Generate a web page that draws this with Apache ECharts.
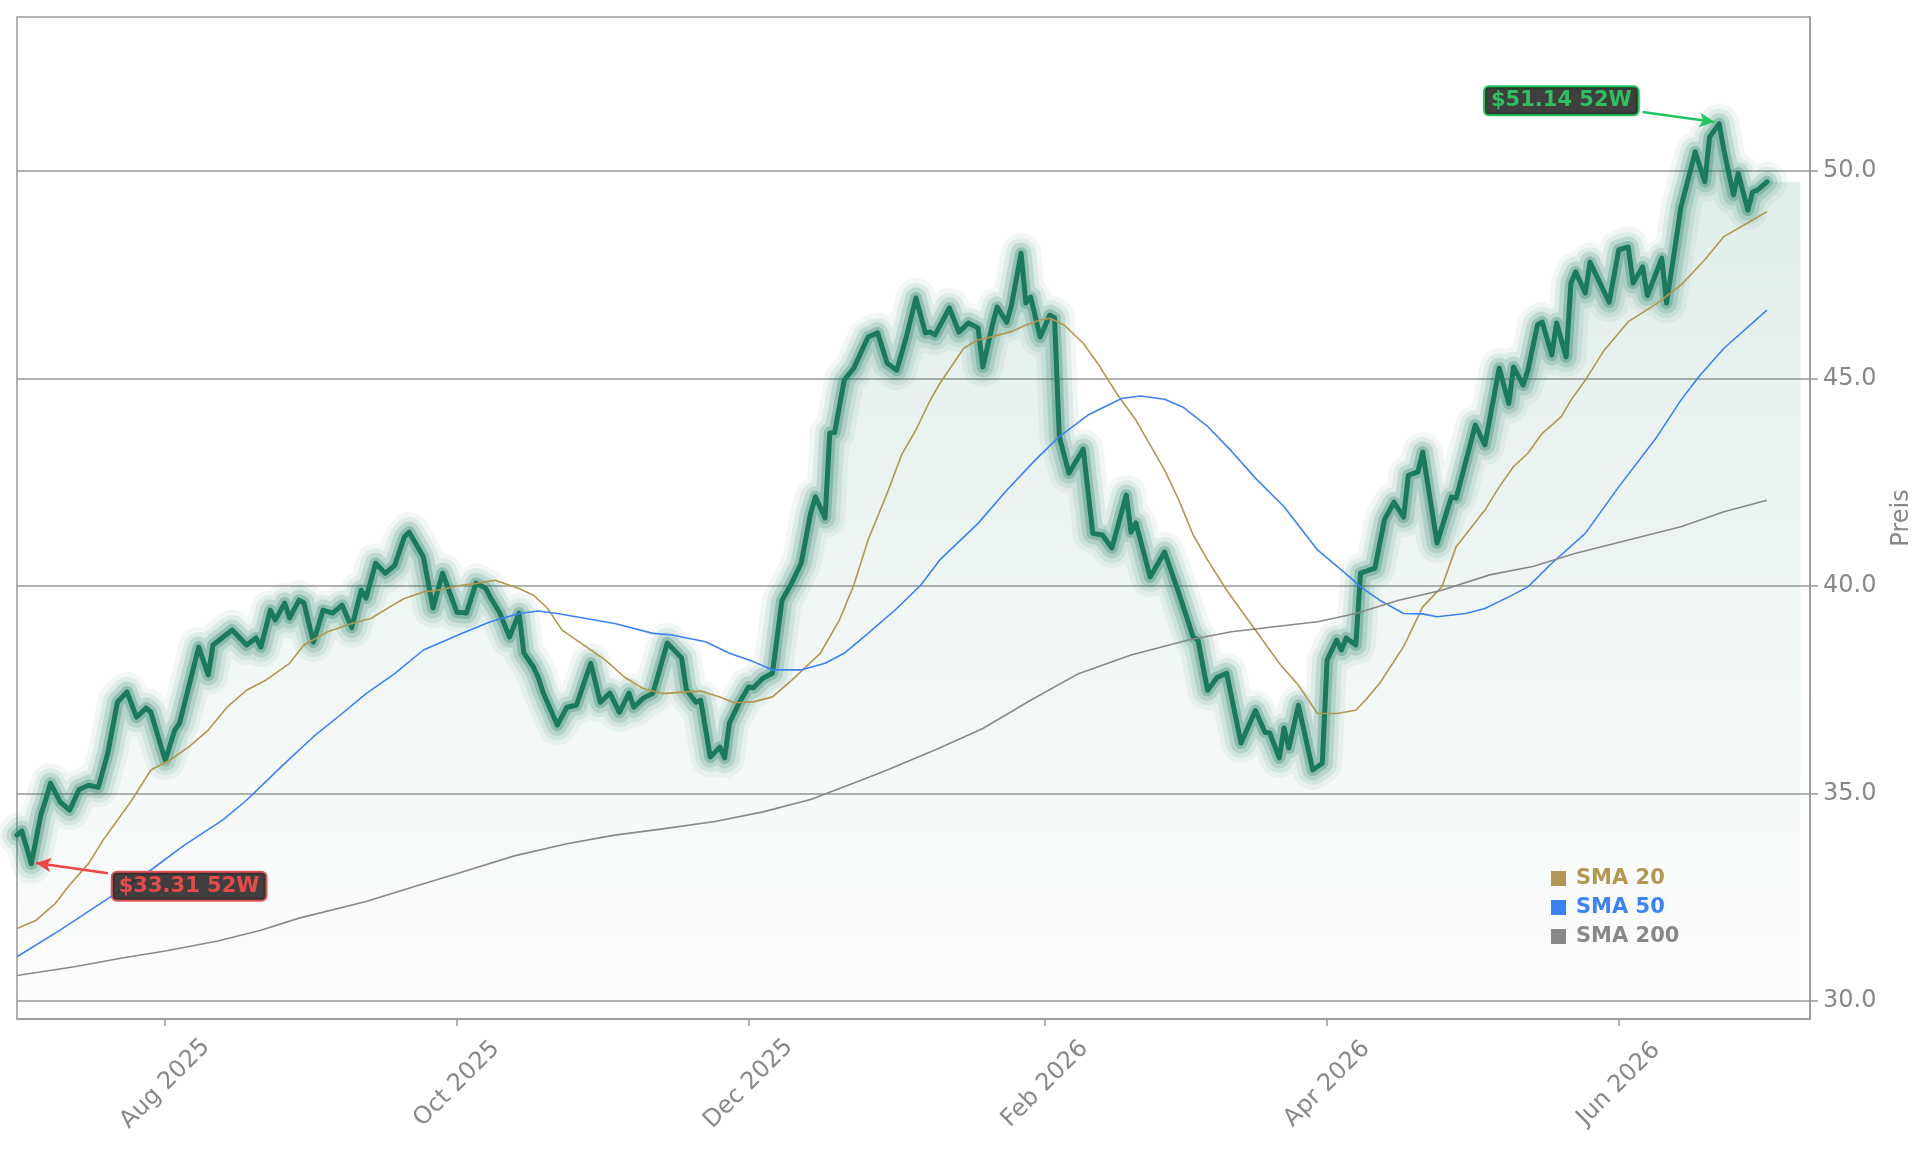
<!DOCTYPE html>
<html><head><meta charset="utf-8">
<script src="https://cdn.jsdelivr.net/npm/echarts@6/dist/echarts.min.js"></script>
<style>html,body{margin:0;padding:0;background:#ffffff}#chart{width:1929px;height:1151px}</style>
</head><body><div id="chart"></div>
<script>
// ---------------- data ----------------
const priceDates = ['2025-07-01','2025-07-02','2025-07-04','2025-07-06','2025-07-07','2025-07-08','2025-07-10','2025-07-12','2025-07-14','2025-07-16','2025-07-18','2025-07-20','2025-07-22','2025-07-24','2025-07-26','2025-07-28','2025-07-29',
'2025-08-01','2025-08-03','2025-08-04','2025-08-08','2025-08-10','2025-08-11','2025-08-15','2025-08-18','2025-08-20','2025-08-21','2025-08-23','2025-08-24','2025-08-26','2025-08-27','2025-08-29','2025-08-30',
'2025-09-01','2025-09-03','2025-09-05','2025-09-07','2025-09-09','2025-09-11','2025-09-12','2025-09-14','2025-09-16','2025-09-18','2025-09-20','2025-09-21','2025-09-24','2025-09-26','2025-09-28',
'2025-10-01','2025-10-03','2025-10-05','2025-10-07','2025-10-08','2025-10-10','2025-10-12','2025-10-14','2025-10-15','2025-10-17','2025-10-18','2025-10-19','2025-10-22','2025-10-24','2025-10-26','2025-10-29','2025-10-31',
'2025-11-02','2025-11-04','2025-11-06','2025-11-07','2025-11-09','2025-11-11','2025-11-14','2025-11-17','2025-11-18','2025-11-20','2025-11-21','2025-11-23','2025-11-25','2025-11-26','2025-11-27','2025-11-29',
'2025-12-01','2025-12-02','2025-12-04','2025-12-06','2025-12-08','2025-12-10','2025-12-12','2025-12-14','2025-12-15','2025-12-17','2025-12-18','2025-12-19','2025-12-21','2025-12-23','2025-12-26','2025-12-28','2025-12-30',
'2026-01-01','2026-01-03','2026-01-05','2026-01-07','2026-01-08','2026-01-09','2026-01-12','2026-01-14','2026-01-16','2026-01-18','2026-01-19','2026-01-21','2026-01-22','2026-01-24','2026-01-25','2026-01-27','2026-01-28','2026-01-29','2026-01-31',
'2026-02-02','2026-02-03','2026-02-04','2026-02-06','2026-02-09','2026-02-11','2026-02-13','2026-02-15','2026-02-18','2026-02-19','2026-02-20','2026-02-23','2026-02-26',
'2026-03-01','2026-03-04','2026-03-05','2026-03-07','2026-03-09','2026-03-11','2026-03-14','2026-03-17','2026-03-19','2026-03-20','2026-03-22','2026-03-23','2026-03-24','2026-03-26','2026-03-29','2026-03-31',
'2026-04-01','2026-04-03','2026-04-04','2026-04-05','2026-04-07','2026-04-08','2026-04-11','2026-04-13','2026-04-15','2026-04-17','2026-04-18','2026-04-20','2026-04-21','2026-04-24','2026-04-27','2026-04-28',
'2026-05-02','2026-05-04','2026-05-07','2026-05-09','2026-05-10','2026-05-12','2026-05-13','2026-05-15','2026-05-16','2026-05-18','2026-05-19','2026-05-21','2026-05-22','2026-05-23','2026-05-25','2026-05-26','2026-05-30',
'2026-06-01','2026-06-03','2026-06-04','2026-06-06','2026-06-07','2026-06-10','2026-06-11','2026-06-13','2026-06-14','2026-06-17','2026-06-19','2026-06-20','2026-06-22','2026-06-23','2026-06-25','2026-06-26','2026-06-28','2026-06-29','2026-06-30','2026-07-02'];
const priceValues = [34.0,34.1,33.31,34.5,34.85,35.25,34.8,34.6,35.1,35.2,35.15,35.98,37.2,37.45,36.84,37.06,36.96,
35.8,36.53,36.7,38.53,37.86,38.58,38.94,38.58,38.75,38.53,39.42,39.18,39.59,39.23,39.66,39.6,
38.65,39.42,39.35,39.54,39.0,39.9,39.71,40.55,40.31,40.5,41.18,41.3,40.7,39.47,40.31,
39.37,39.35,40.07,39.95,39.73,39.35,38.77,39.35,38.39,38.05,37.8,37.45,36.65,37.08,37.13,38.14,37.2,
37.42,36.96,37.42,37.08,37.3,37.42,38.63,38.27,37.5,37.2,37.25,35.88,36.12,35.86,36.7,37.18,
37.57,37.55,37.78,37.9,39.66,40.07,40.55,41.76,42.15,41.64,43.69,43.7,44.96,45.25,46.0,46.1,45.37,
45.2,46.0,46.94,46.1,46.12,46.05,46.7,46.12,46.34,46.22,45.28,46.29,46.72,46.36,46.77,48.02,46.82,46.96,46.0,
46.53,46.46,43.6,42.72,43.3,41.27,41.23,40.92,42.19,41.3,41.52,40.22,40.82,
39.83,38.77,38.7,37.49,37.8,37.9,36.22,37.0,36.48,36.46,35.86,36.58,36.1,37.13,35.57,35.73,
38.22,38.7,38.46,38.75,38.58,40.31,40.43,41.6,42.02,41.66,42.67,42.75,43.23,41.04,42.15,42.12,
43.88,43.4,45.25,44.4,45.28,44.84,45.2,46.29,46.36,45.57,46.34,45.52,47.3,47.57,47.06,47.8,46.84,
48.1,48.17,47.3,47.69,47.0,47.9,46.82,48.34,49.13,50.46,49.74,50.82,51.14,50.5,49.42,49.95,49.06,49.5,49.54,49.74];

const sma20Dates = ['2025-07-01','2025-07-05','2025-07-09','2025-07-12','2025-07-16','2025-07-19','2025-07-22','2025-07-25','2025-07-29','2025-08-02','2025-08-06','2025-08-10','2025-08-14','2025-08-18','2025-08-22','2025-08-27','2025-08-30',
'2025-09-04','2025-09-09','2025-09-13','2025-09-17','2025-09-20','2025-09-24','2025-09-27','2025-10-02','2025-10-05','2025-10-09','2025-10-14','2025-10-17','2025-10-20','2025-10-23','2025-10-28',
'2025-11-01','2025-11-05','2025-11-09','2025-11-13','2025-11-18','2025-11-21','2025-11-25','2025-11-28','2025-12-02','2025-12-06','2025-12-10','2025-12-16','2025-12-20','2025-12-23','2025-12-26','2025-12-30',
'2026-01-02','2026-01-05','2026-01-08','2026-01-10','2026-01-15','2026-01-18','2026-01-21','2026-01-25','2026-01-28','2026-01-31','2026-02-02','2026-02-05','2026-02-09','2026-02-12','2026-02-16','2026-02-20','2026-02-26',
'2026-03-01','2026-03-04','2026-03-07','2026-03-11','2026-03-15','2026-03-17','2026-03-22','2026-03-26','2026-03-30','2026-04-03','2026-04-07','2026-04-09','2026-04-12','2026-04-17','2026-04-21','2026-04-25','2026-04-28',
'2026-05-04','2026-05-07','2026-05-10','2026-05-13','2026-05-16','2026-05-20','2026-05-22','2026-05-25','2026-05-29','2026-06-03','2026-06-09','2026-06-14','2026-06-19','2026-06-23','2026-06-29','2026-07-02'];
const sma20Values = [31.75,31.95,32.35,32.8,33.32,33.88,34.36,34.84,35.57,35.81,36.13,36.53,37.09,37.49,37.73,38.14,38.58,
38.9,39.1,39.22,39.5,39.7,39.86,39.9,40.02,40.06,40.14,39.94,39.78,39.46,38.94,38.54,
38.22,37.81,37.53,37.41,37.45,37.47,37.33,37.19,37.21,37.33,37.73,38.38,39.18,40.02,41.11,42.24,
43.16,43.76,44.48,44.88,45.73,45.93,46.01,46.13,46.29,46.41,46.45,46.29,45.85,45.37,44.64,44.0,42.8,
42.07,41.23,40.63,39.9,39.26,38.94,38.14,37.61,36.93,36.93,37.01,37.25,37.66,38.54,39.5,39.98,40.95,
41.83,42.39,42.88,43.2,43.68,44.08,44.48,44.96,45.69,46.37,46.81,47.25,47.86,48.42,48.82,49.02];

const sma50Dates = ['2025-07-01','2025-07-10','2025-07-20','2025-07-29','2025-08-05','2025-08-13','2025-08-18','2025-08-26','2025-09-01','2025-09-07','2025-09-12','2025-09-18','2025-09-24',
'2025-10-02','2025-10-08','2025-10-14','2025-10-18','2025-10-22','2025-10-28','2025-11-03','2025-11-11','2025-11-15','2025-11-22','2025-11-27','2025-12-02','2025-12-06','2025-12-12','2025-12-17','2025-12-21','2025-12-26',
'2026-01-01','2026-01-06','2026-01-10','2026-01-18','2026-01-24','2026-01-30','2026-02-04','2026-02-10','2026-02-17','2026-02-21','2026-02-26','2026-03-02','2026-03-07','2026-03-12','2026-03-17','2026-03-23','2026-03-30',
'2026-04-06','2026-04-08','2026-04-12','2026-04-17','2026-04-21','2026-04-24','2026-04-30','2026-05-04','2026-05-09','2026-05-13','2026-05-18','2026-05-25','2026-06-01','2026-06-09','2026-06-14','2026-06-18','2026-06-23','2026-07-02'];
const sma50Values = [31.07,31.71,32.47,33.16,33.76,34.36,34.84,35.73,36.37,36.93,37.41,37.89,38.46,
38.86,39.14,39.34,39.4,39.34,39.22,39.1,38.86,38.82,38.66,38.38,38.18,37.98,37.98,38.14,38.38,38.86,
39.46,40.02,40.63,41.51,42.31,43.04,43.6,44.12,44.52,44.58,44.5,44.3,43.85,43.25,42.6,41.91,40.87,
40.19,39.98,39.66,39.34,39.33,39.26,39.34,39.46,39.74,39.98,40.55,41.27,42.39,43.6,44.48,45.08,45.73,46.65];

const sma200Dates = ['2025-07-01','2025-07-13','2025-07-23','2025-08-01','2025-08-12','2025-08-21','2025-08-29','2025-09-12','2025-09-23','2025-10-03','2025-10-13','2025-10-24','2025-11-03','2025-11-13','2025-11-24','2025-12-04','2025-12-14','2025-12-24','2025-12-30',
'2026-01-09','2026-01-19','2026-01-29','2026-02-08','2026-02-19','2026-03-03','2026-03-12','2026-03-21','2026-03-30','2026-04-07','2026-04-16','2026-04-25','2026-05-05','2026-05-14','2026-05-23','2026-06-03','2026-06-14','2026-06-23','2026-07-02'];
const sma200Values = [30.62,30.83,31.04,31.21,31.45,31.71,32.0,32.4,32.79,33.14,33.5,33.79,34.0,34.15,34.33,34.56,34.86,35.3,35.57,
36.05,36.57,37.25,37.89,38.34,38.7,38.9,39.02,39.14,39.34,39.66,39.9,40.27,40.47,40.79,41.11,41.43,41.79,42.07];

const yTicks = [30, 35, 40, 45, 50];
const xTickDates = ['2025-08-01','2025-10-01','2025-12-01','2026-02-01','2026-04-01','2026-06-01'];
const monthNames = ['Jan','Feb','Mar','Apr','May','Jun','Jul','Aug','Sep','Oct','Nov','Dec'];
const high52 = { date: '2026-06-22', value: 51.14 };
const low52 = { date: '2025-07-04', value: 33.31 };

// ---------------- layout / style ----------------
const GREEN = '#1a7a5e';
const C20 = '#b39650', C50 = '#3b82f6', C200 = '#888888';
const FONT = 'DejaVu Sans';
const fillEndDate = '2026-07-09';

function ts(s){ const p = s.split('-').map(Number); return Date.UTC(p[0], p[1]-1, p[2]); }
function pairs(d, v){ return d.map((x,i)=>[ts(x), v[i]]); }

const priceData = pairs(priceDates, priceValues);
const fillData = priceData.concat([[ts(fillEndDate), priceValues[priceValues.length-1]]]);

const glowLayers = [ {w:40, a:0.06}, {w:30, a:0.09}, {w:21, a:0.16}, {w:12, a:0.28} ];

const series = [];
series.push({
  type:'line', name:'fill', data: fillData, showSymbol:false, symbol:'none', silent:true,
  lineStyle:{width:0}, z:1,
  areaStyle:{ origin:'start', color:{type:'linear',x:0,y:0,x2:0,y2:1,colorStops:[
    {offset:0,color:'rgba(26,122,94,0.20)'},{offset:1,color:'rgba(26,122,94,0.015)'}]}}
});
glowLayers.forEach((g,i)=>{
  series.push({type:'line', name:'glow'+i, data: priceData, showSymbol:false, symbol:'none', silent:true, z:2,
    lineStyle:{width:g.w, color:GREEN, opacity:g.a, join:'round', cap:'round'}});
});
series.push({type:'line', name:'Preis', data: priceData, showSymbol:false, symbol:'none', silent:true, z:3,
  lineStyle:{width:5, color:GREEN, join:'round', cap:'round'}});
[['SMA 20', sma20Dates, sma20Values, C20], ['SMA 50', sma50Dates, sma50Values, C50], ['SMA 200', sma200Dates, sma200Values, C200]].forEach(s=>{
  series.push({type:'line', name:s[0], data: pairs(s[1], s[2]), showSymbol:false, symbol:'none', silent:true, z:4,
    itemStyle:{color:s[3]}, lineStyle:{width:1.6, color:s[3]}});
});

const boxLabel = {show:true, position:'inside', fontSize:21, fontWeight:'bold', fontFamily:FONT,
  backgroundColor:'rgba(42,42,42,0.9)', borderWidth:2, borderRadius:4, padding:[4,6,2,6]};
series.push({
  type:'scatter', name:'ann', data:[[ts(low52.date), low52.value],[ts(high52.date), high52.value]],
  symbolSize:0, silent:true, z:10,
  markLine:{ silent:true, symbol:['none','arrow'], symbolSize:[11,15], animation:false, label:{show:false},
    data:[
      [{coord:[ts('2026-06-06'), 51.42], lineStyle:{color:'#22c55e', width:2.5, type:'solid'}}, {coord:[ts('2026-06-21'), 51.18]}],
      [{coord:[ts('2025-07-20'), 33.08], lineStyle:{color:'#ef4444', width:2.5, type:'solid'}}, {coord:[ts('2025-07-05'), 33.33]}]
    ]},
  markPoint:{ silent:true, symbol:'rect', symbolSize:1, itemStyle:{color:'rgba(0,0,0,0)'}, animation:false,
    data:[
      {coord:[ts('2026-05-20'), 51.69], label:Object.assign({}, boxLabel, {formatter:'$'+high52.value.toFixed(2)+' 52W', color:'#2ec05c', borderColor:'#22c55e'})},
      {coord:[ts('2025-08-06'), 32.77], label:Object.assign({}, boxLabel, {formatter:'$'+low52.value.toFixed(2)+' 52W', color:'#e84a4a', borderColor:'#e05555'})}
    ]}
});

const option = {
  animation:false,
  backgroundColor:'#ffffff',
  grid:{left:17, right:119, top:17, bottom:132, show:true, borderColor:'#999999', borderWidth:1.5, backgroundColor:'transparent'},
  legend:{show:true, orient:'vertical', left:1546, top:863, itemWidth:15, itemHeight:15, itemGap:8, icon:'rect', selectedMode:false,
    textStyle:{fontSize:21, fontWeight:'bold', fontFamily:FONT, padding:[0,0,0,5]},
    data:[{name:'SMA 20', textStyle:{color:C20}}, {name:'SMA 50', textStyle:{color:C50}}, {name:'SMA 200', textStyle:{color:C200}}]},
  xAxis:{type:'value', min: ts('2025-07-01'), max: ts('2026-07-11'),
    axisLine:{show:true, lineStyle:{color:'#999999', width:1.5}},
    axisTick:{show:true, length:7, customValues: xTickDates.map(ts), lineStyle:{color:'#999999', width:1.5}},
    axisLabel:{customValues: xTickDates.map(ts), rotate:45, align:'center', verticalAlign:'middle', margin:65,
      color:'#888888', fontSize:24, fontFamily:FONT,
      formatter:(v)=>{const d=new Date(v); return monthNames[d.getUTCMonth()]+' '+d.getUTCFullYear();}},
    splitLine:{show:false}, minorTick:{show:false}},
  yAxis:{type:'value', position:'right', min:29.57, max:53.71,
    axisLine:{show:true, lineStyle:{color:'#999999', width:1.5}},
    axisTick:{show:true, length:8, customValues: yTicks, lineStyle:{color:'#999999', width:1.5}},
    axisLabel:{customValues: yTicks, formatter:(v)=>v.toFixed(1), color:'#888888', fontSize:24, fontFamily:FONT, margin:13},
    splitLine:{show:true, lineStyle:{color:'#999999', width:1.5}},
    name:'Preis', nameLocation:'middle', nameRotate:90, nameGap:80,
    nameTextStyle:{color:'#888888', fontSize:24, fontFamily:FONT}},
  series: series
};
const chart = echarts.init(document.getElementById('chart'), null, {renderer:'canvas'});
chart.setOption(option);
</script></body></html>
